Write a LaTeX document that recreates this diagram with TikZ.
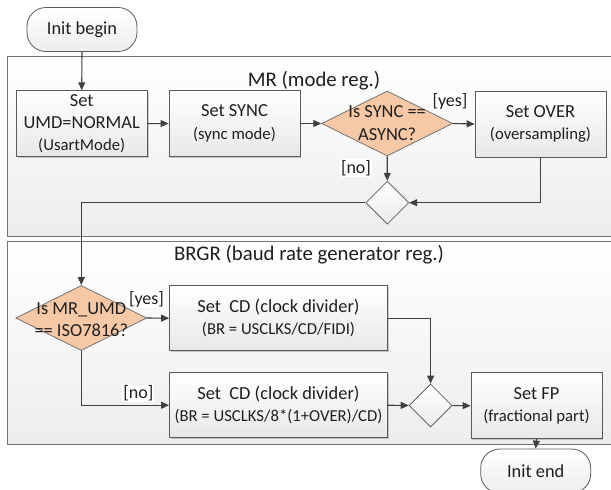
\documentclass[tikz,border=0pt]{standalone}
\usepackage{fontspec}
\setmainfont{Carlito}
\usetikzlibrary{arrows.meta,shapes.geometric,shadows}
\definecolor{linec}{HTML}{404040}
\definecolor{boxb}{HTML}{5A5A5A}
\definecolor{peach}{HTML}{F6C8A6}
\newcommand{\smalltxt}[1]{{\fontsize{16.7}{20}\selectfont #1}}
\begin{document}
\begin{tikzpicture}[x=1pt,y=-1pt,
  every node/.style={font=\fontsize{18.4}{22.4}\selectfont, text=black!88},
  shad/.style={drop shadow={shadow xshift=1.3pt,shadow yshift=-1.3pt,fill=black!40,opacity=0.5}},
  box/.style={shad, draw=boxb, line width=0.8pt, top color=white, bottom color=black!9,
    minimum width=131, minimum height=66, inner sep=0, align=center},
  term/.style={draw=boxb, line width=0.8pt, rounded corners=19pt, top color=white, bottom color=black!7,
    minimum width=110, minimum height=44, inner sep=0},
  dia/.style={diamond, aspect=2, draw=black!55, line width=0.8pt, fill=peach,
    minimum width=131, minimum height=65, inner sep=0},
  mdia/.style={diamond, draw=black!60, line width=0.8pt, top color=white, bottom color=black!8,
    minimum width=43, minimum height=43, inner sep=0},
  dtext/.style={align=center, inner sep=0},
  cont/.style={shad, draw=black!55, line width=0.9pt, top color=white, bottom color=black!7},
  title/.style={font=\fontsize{20.8}{24}\selectfont},
  arr/.style={draw=linec, line width=1.1pt, -{Triangle[length=8pt,width=7pt]}},
  lbl/.style={fill=white, inner sep=1pt, font=\fontsize{18}{20}\selectfont}]
\useasboundingbox (0,0) rectangle (611,490);

% containers
\draw[cont] (7.3,56) rectangle (640,236);
\draw[cont] (7.3,241) rectangle (640,444);
\node[title] (mrt) at (314,81) {MR (mode reg.)};
\node[title] (brt) at (309,255) {BRGR (baud rate generator reg.)};

% nodes
\node[term] (ib) at (82,29.5) {Init begin};
\node[box] (umd) at (81.7,123.7) {Set\\UMD=NORMAL\\\smalltxt{(UsartMode)}};
\node[box] (sync) at (234.5,123.5) {Set SYNC\\\smalltxt{(sync mode)}};
\node[dia] (d1) at (387.2,123.5) {};
\node[dtext] (d1t) at (387.2,123) {Is SYNC ==\\ASYNC?};
\node[box] (over) at (540.5,124) {Set OVER\\\smalltxt{(oversampling)}};
\node[mdia] (m1) at (387.3,202.7) {};

\node[dia] (iso) at (81.3,318) {};
\node[dtext] (isot) at (81.3,319.5) {Is MR\_UMD\\== ISO7816?};
\node[box, minimum width=218, minimum height=65] (cd1) at (278.5,318.2)
  {Set\ \ CD (clock divider)\\\smalltxt{(BR = USCLKS/CD/FIDI)}};
\node[box, minimum width=218, minimum height=65] (cd2) at (278.5,405.2)
  {Set\ \ CD (clock divider)\\\smalltxt{(BR = USCLKS/8*(1+OVER)/CD)}};
\node[mdia] (m2) at (430.6,405.5) {};
\node[box] (fp) at (536.5,405.8) {Set FP\\\smalltxt{(fractional part)}};
\node[term] (ie) at (535.7,471) {Init end};

% connectors
\draw[arr] (ib.south) -- (umd.north);
\draw[arr] (umd.east) -- (sync.west);
\draw[arr] (sync.east) -- (d1.west);
\draw[arr] (d1.east) -- (over.west);
\draw[arr] (d1.south) -- (m1.north);
\draw[arr] (over.south) |- (m1.east);
\draw[arr] (m1.west) -| (iso.north);
\draw[arr] (iso.east) -- (cd1.west);
\draw[arr] (iso.south) |- (cd2.west);
\draw[arr] (cd1.east) -| (m2.north);
\draw[arr] (cd2.east) -- (m2.west);
\draw[arr] (m2.east) -- (fp.west);
\draw[arr] (fp.south) -- (ie.north);

% labels
\node[lbl] (y1) at (450,101) {[yes]};
\node[lbl] (n1) at (356,168) {[no]};
\node[lbl] (y2) at (146.5,299.3) {[yes]};
\node[lbl] (n2) at (138.3,393.3) {[no]};
\end{tikzpicture}
\end{document}
